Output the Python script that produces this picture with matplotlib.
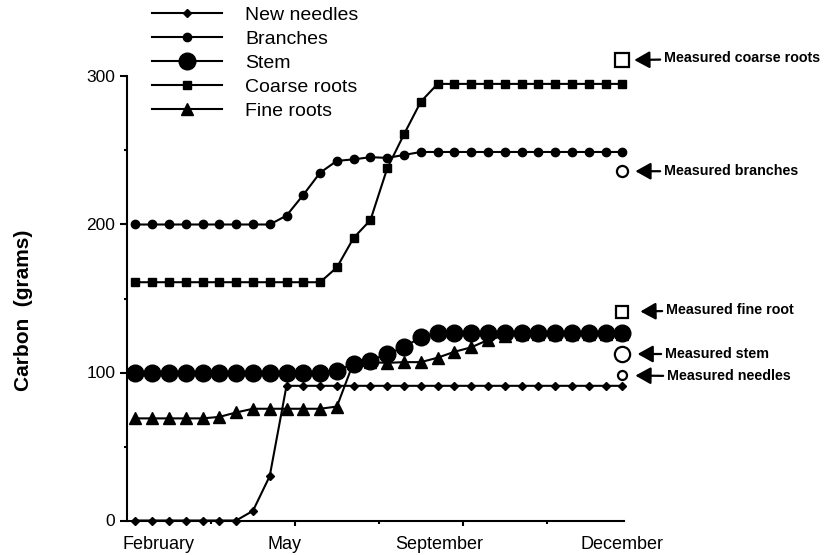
import numpy as np
import matplotlib
matplotlib.use("Agg")
import matplotlib.pyplot as plt

plt.rcParams['font.family'] = ['Liberation Sans', 'DejaVu Sans']

# ---------------- data ----------------
period = list(range(30))  # sampling periods (~10 days each), Feb -> Dec

new_needles = [0, 0, 0, 0, 0, 0, 0, 6.5, 30, 91,
               91, 91, 91, 91, 91, 91, 91, 91, 91, 91,
               91, 91, 91, 91, 91, 91, 91, 91, 91, 91]
branches = [200, 200, 200, 200, 200, 200, 200, 200, 200, 206,
            220, 235, 243, 244, 245.5, 245, 247, 249, 249, 249,
            249, 249, 249, 249, 249, 249, 249, 249, 249, 249]
stem = [100, 100, 100, 100, 100, 100, 100, 100, 100, 100,
        100, 100, 101, 106, 108, 112.5, 117, 124, 127, 127,
        127, 127, 127, 127, 127, 127, 127, 127, 127, 127]
coarse_roots = [161, 161, 161, 161, 161, 161, 161, 161, 161, 161,
                161, 161, 171, 191, 203, 238, 261, 283, 295, 295,
                295, 295, 295, 295, 295, 295, 295, 295, 295, 295]
fine_roots = [69, 69, 69, 69, 69, 70, 73, 75.5, 75.5, 75.5,
              75.5, 75.5, 77, 107, 107, 106.5, 107, 107, 110, 114,
              117, 122, 125, 126, 126, 126, 126, 126, 126, 126]

series_labels = ["New needles", "Branches", "Stem", "Coarse roots", "Fine roots"]

month_labels = ["February", "May", "September", "December"]

measured_labels = ["Measured coarse roots", "Measured branches",
                   "Measured fine root", "Measured stem", "Measured needles"]
measured_values = [311, 236, 141, 112.5, 98]

y_ticks = [0, 100, 200, 300]

# ---------------- figure ----------------
fig = plt.figure(figsize=(8.24, 5.55), dpi=100)
ax = fig.add_axes([127 / 824, 1 - 520.5 / 555, 497 / 824, 444 / 555])

series = [new_needles, branches, stem, coarse_roots, fine_roots]
markers = ['D', 'o', 'o', 's', '^']
msizes = [4.5, 6, 12, 6, 8.5]
zorders = [3, 3, 2, 3, 1.5]
handles = []
for vals, lab, mk, ms, zo in zip(series, series_labels, markers, msizes, zorders):
    ln, = ax.plot(period, vals, color='black', lw=1.5, marker=mk,
                  markersize=ms, markerfacecolor='black',
                  markeredgecolor='black', label=lab, clip_on=False, zorder=zo)
    handles.append(ln)

ax.set_xlim(-0.5, 29.1)
ax.set_ylim(0, 300)

for s in ['top', 'right']:
    ax.spines[s].set_visible(False)
for s in ['left', 'bottom']:
    ax.spines[s].set_linewidth(1.5)

ax.set_yticks(y_ticks)
ax.set_yticks([50, 150, 250], minor=True)
ax.set_yticklabels([str(v) for v in y_ticks], fontsize=12.5)
ax.tick_params(axis='y', which='major', length=5, width=1.5, pad=3.5)
ax.tick_params(axis='y', which='minor', length=2.5, width=1.5)

ax.set_xticks([9.5, 19.5])
ax.set_xticks([4.5, 14.5, 24.5], minor=True)
ax.set_xticklabels(['', ''])
ax.tick_params(axis='x', which='major', length=3.5, width=1.5)
ax.tick_params(axis='x', which='minor', length=2.5, width=1.5)

month_pos = [1.35, 8.9, 18.1, 29.0]
for lab, xp in zip(month_labels, month_pos):
    ax.text(xp, -0.055, lab, transform=ax.get_xaxis_transform(),
            ha='center', va='center', fontsize=13)

ax.set_ylabel("Carbon  (grams)", fontsize=15, fontweight='bold')
ax.yaxis.set_label_coords(-0.19, 0.474)

# measured values with arrows
m_markers = ['s', 'o', 's', 'o', 'o']
m_sizes = [9.5, 8, 8, 11, 6.5]
txt_dx = [42, 42, 44, 43, 45]
txt_dy = [2, 0, 2, 0, -1]
shrink = [8.6, 9.4, 13, 11, 9.4]
x_last = period[-1]
for lab, val, mk, ms, dx, dy, sb in zip(measured_labels, measured_values,
                                        m_markers, m_sizes, txt_dx, txt_dy, shrink):
    ax.plot([x_last], [val], marker=mk, markersize=ms, markerfacecolor='white',
            markeredgecolor='black', markeredgewidth=1.6, linestyle='none',
            clip_on=False, zorder=5)
    ax.annotate(lab, xy=(x_last, val), xytext=(dx, dy),
                textcoords='offset pixels', ha='left', va='center',
                fontsize=10.3, fontweight='bold', annotation_clip=False,
                arrowprops=dict(arrowstyle='-|>,head_length=0.9,head_width=0.5',
                                color='black', lw=1.6, shrinkA=1, shrinkB=sb))

fig.legend(handles=handles, labels=series_labels, loc='upper left',
           bbox_to_anchor=(152 / 824, 1 - 6 / 555), frameon=False,
           fontsize=14, numpoints=1, handlelength=3.6, handletextpad=1.18,
           labelspacing=0.33, borderpad=0, borderaxespad=0)

fig.savefig("out.png", dpi=100)
